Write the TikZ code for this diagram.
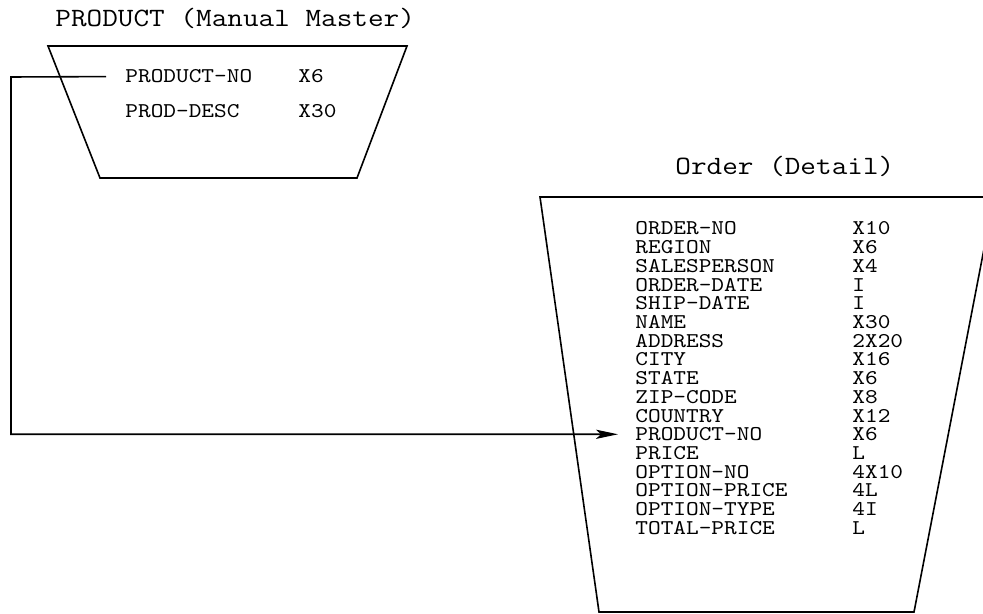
\documentclass[tikz,border=0pt]{standalone}
\usepackage{fontspec}
\setmonofont[FakeStretch=1.15]{Latin Modern Mono}
\usetikzlibrary{arrows.meta}
\tikzset{
  shape line/.style={line width=0.8pt, line join=miter},
  title/.style={anchor=base west, inner sep=0pt, font=\ttfamily\fontsize{13.2pt}{15pt}\selectfont},
  field/.style={anchor=base west, inner sep=0pt, font=\ttfamily\fontsize{10.5pt}{12pt}\selectfont},
  link/.style={line width=0.8pt, -{Stealth[length=11pt, width=4.6pt, inset=2.5pt]}}
}
\begin{document}
\begin{tikzpicture}[x=0.5pt, y=-0.5pt]
\useasboundingbox (0,0) rectangle (983,614);
% Product (Manual Master)
\node[title] (ptitle) at (55,27) {PRODUCT (Manual Master)};
\draw[shape line] (48,46) -- (407,46) -- (357,178) -- (100,178) -- cycle;
\node[field] (pno) at (125,83) {PRODUCT-NO};
\node[field] (pnot) at (298,83) {X6};
\node[field] (pdesc) at (125,118) {PROD-DESC};
\node[field] (pdesct) at (298,118) {X30};
% Order (Detail)
\node[title] (otitle) at (675,175) {Order (Detail)};
\draw[shape line] (540,197) -- (994,197) -- (914,612) -- (599,612) -- cycle;
\foreach \n/\t [count=\i from 0] in {ORDER-NO/X10, REGION/X6, SALESPERSON/X4, ORDER-DATE/I, SHIP-DATE/I, NAME/X30, ADDRESS/2X20, CITY/X16, STATE/X6, ZIP-CODE/X8, COUNTRY/X12, PRODUCT-NO/X6, PRICE/L, OPTION-NO/4X10, OPTION-PRICE/4L, OPTION-TYPE/4I, TOTAL-PRICE/L}{
  \node[field] (of\i) at (635,235+18.7*\i) {\n};
  \node[field] (ot\i) at (852,235+18.7*\i) {\t};
}
% connector
\coordinate (c1) at (11,77);
\draw[link] ([xshift=-9.5pt]pno.west) -- (c1) |- ([xshift=-8.5pt]of11.west);
\end{tikzpicture}
\end{document}
